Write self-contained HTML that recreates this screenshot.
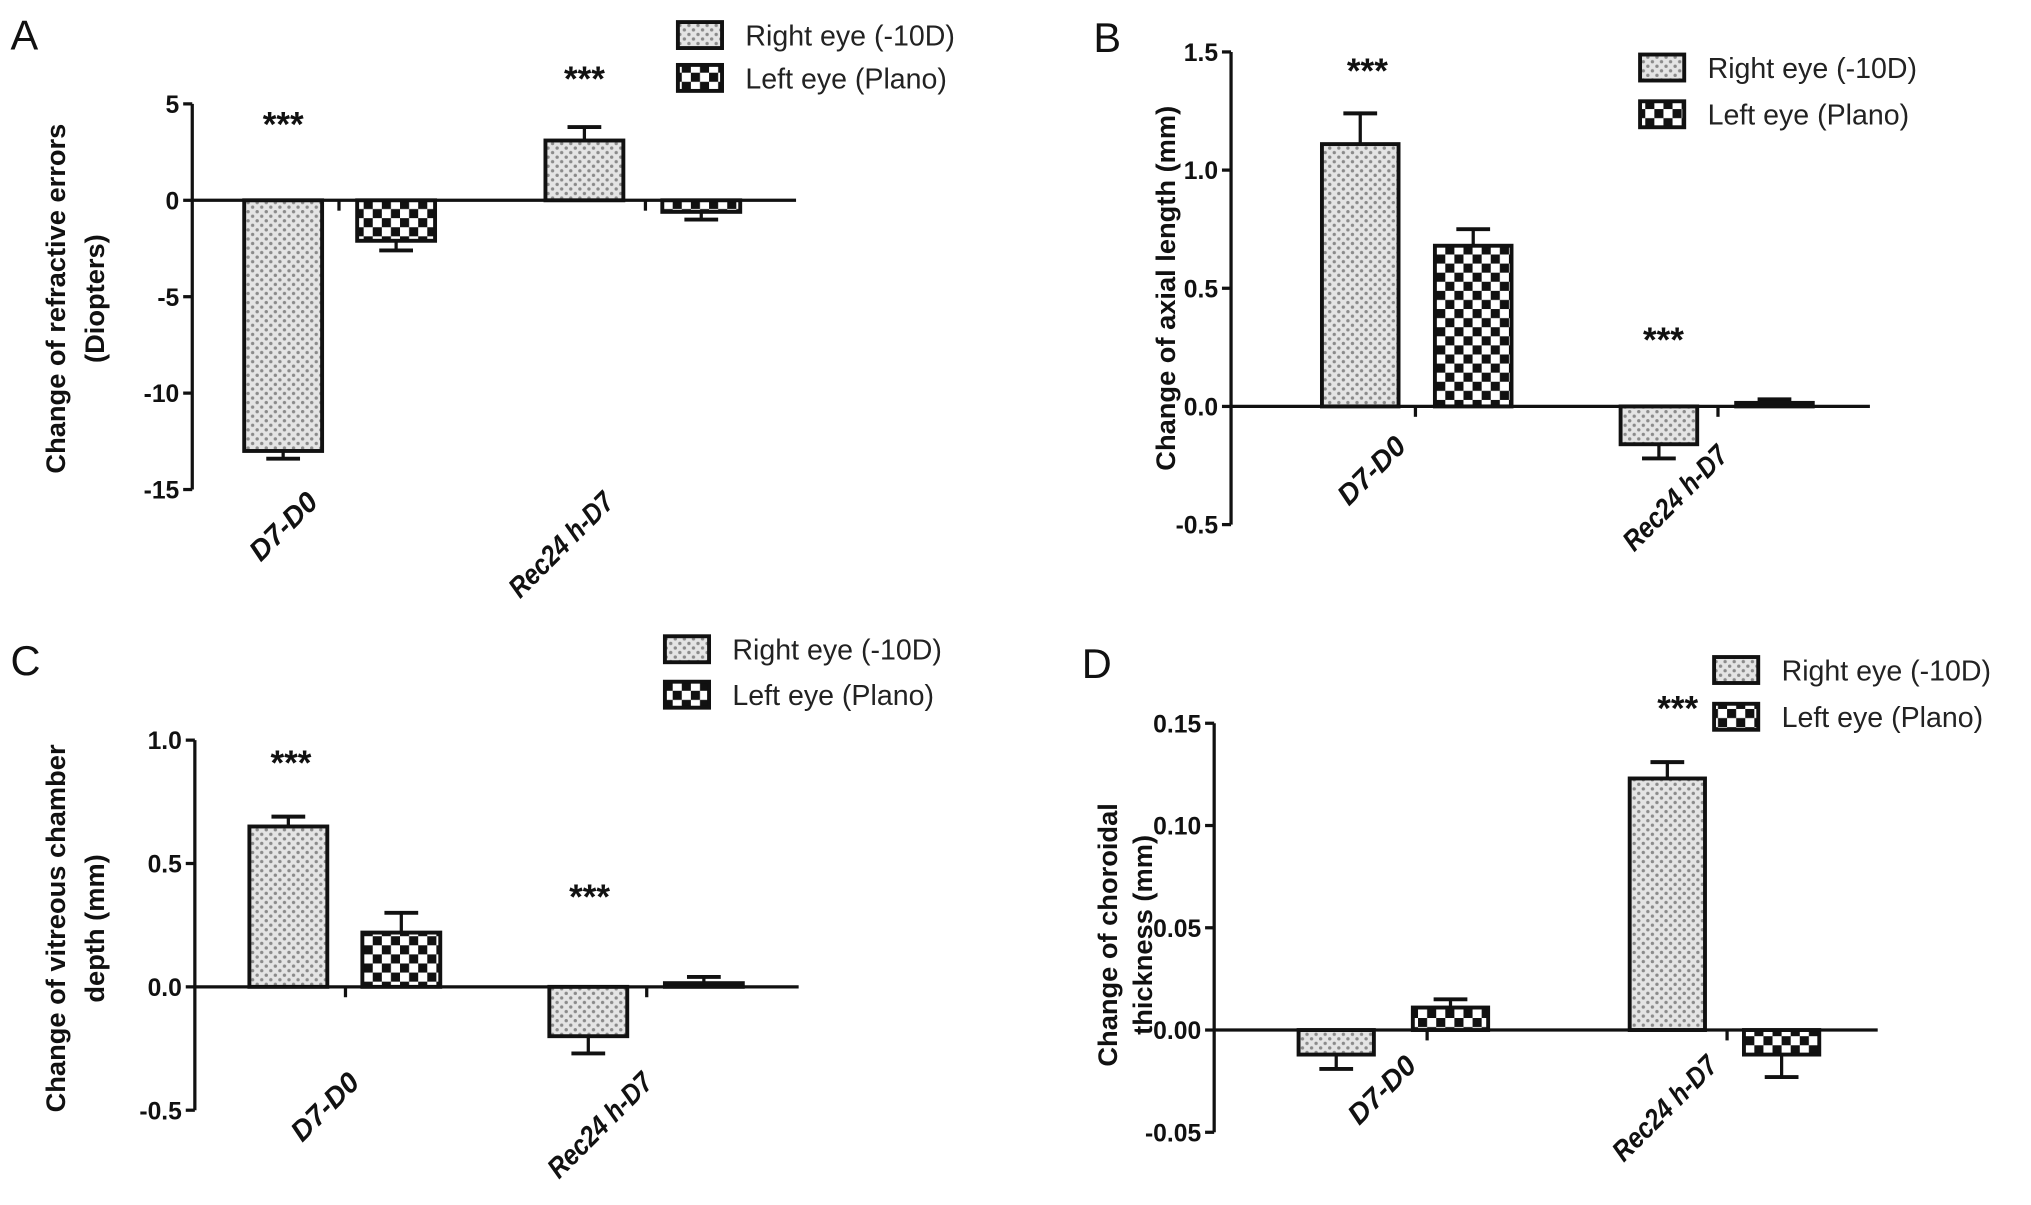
<!DOCTYPE html>
<html><head><meta charset="utf-8"><style>
html,body{margin:0;padding:0;background:#fff}
svg{display:block;font-family:"Liberation Sans",Arial,sans-serif}
</style></head><body>
<svg id="fig" width="2031" height="1205" viewBox="0 0 1564 928" xmlns="http://www.w3.org/2000/svg">
<defs>
<pattern id="dots" width="7" height="7" patternUnits="userSpaceOnUse">
<rect width="7" height="7" fill="#e4e4e4"/><circle cx="2" cy="2" r="1.3" fill="#8a8a8a"/><circle cx="5.5" cy="5.5" r="1.3" fill="#8a8a8a"/>
</pattern>
<pattern id="checks" width="14" height="14" patternUnits="userSpaceOnUse">
<rect width="14" height="14" fill="#fff"/><rect width="7" height="7" fill="#111"/><rect x="7" y="7" width="7" height="7" fill="#111"/>
</pattern>
</defs>
</svg>
<script>
const categories = ["D7-D0", "Rec24 h-D7"];
const seriesNames = ["Right eye (-10D)", "Left eye (Plano)"];
const valuesA = [[-13.0, 3.1], [-2.1, -0.6]];
const errorsA = [[0.4, 0.7], [0.5, 0.4]];
const ticksA = [5, 0, -5, -10, -15];
const valuesB = [[1.11, -0.16], [0.68, 0.015]];
const errorsB = [[0.13, 0.06], [0.07, 0.015]];
const ticksB = [1.5, 1.0, 0.5, 0.0, -0.5];
const tickLabelsB = ["1.5", "1.0", "0.5", "0.0", "-0.5"];
const valuesC = [[0.65, -0.2], [0.22, 0.015]];
const errorsC = [[0.04, 0.07], [0.08, 0.025]];
const ticksC = [1.0, 0.5, 0.0, -0.5];
const tickLabelsC = ["1.0", "0.5", "0.0", "-0.5"];
const valuesD = [[-0.012, 0.123], [0.011, -0.012]];
const errorsD = [[0.007, 0.008], [0.004, 0.011]];
const ticksD = [0.15, 0.10, 0.05, 0.00, -0.05];
const tickLabelsD = ["0.15", "0.10", "0.05", "0.00", "-0.05"];

const svg = document.getElementById('fig');
const NS = "http://www.w3.org/2000/svg";
function mk(tag, attrs, parent){const e=document.createElementNS(NS,tag);for(const k in attrs)e.setAttribute(k,attrs[k]);(parent||svg).appendChild(e);return e;}

function panel(cfg){
  const g = mk('g',{});
  
  
  const ymax = cfg.ticks[0], ymin = cfg.ticks[cfg.ticks.length-1];
  const y = v => cfg.yTop + (ymax - v) / (ymax - ymin) * (cfg.yBot - cfg.yTop);
  const lt = mk('text',{x:cfg.lx,y:cfg.ly,'font-size':32,fill:'#111'},g); lt.textContent=cfg.letter;
  
  
  const ax = mk('line',{x1:cfg.ax,y1:y(ymax),x2:cfg.ax,y2:y(ymin),stroke:'#111','stroke-width':2.5},g);
  
  
  cfg.ticks.forEach((t,i)=>{
    mk('line',{x1:cfg.ax-7,y1:y(t),x2:cfg.ax,y2:y(t),stroke:'#111','stroke-width':2.5},g);
    const tx = mk('text',{x:cfg.ax-10,y:y(t)+7,'text-anchor':'end','font-size':19,'font-weight':'bold',fill:'#111'},g);
    tx.textContent = cfg.tickLabels ? cfg.tickLabels[i] : String(t);
    
    
  });
  const tt = mk('text',{transform:`translate(${cfg.tx},${cfg.ty}) rotate(-90)`,'text-anchor':'middle','font-size':21,'font-weight':'bold',fill:'#111'},g);
  
  
  cfg.title.forEach((line,i)=>{const s=mk('tspan',{x:0,dy:i?cfg.tgap:0},tt);s.textContent=line;});
  const fills=['url(#dots)','url(#checks)'];
  categories.forEach((c,ci)=>{
    [0,1].forEach(si=>{
      const x0 = cfg.barX[ci][si], w = cfg.bw;
      const v = cfg.values[si][ci], e = cfg.errors[si][ci];
      const y0 = y(0), yv = y(v), ye = y(v + (v>=0?e:-e));
      const cx = x0 + w/2;
      const el = mk('line',{x1:cx,y1:yv,x2:cx,y2:ye,stroke:'#111','stroke-width':2.5},g);
      
      
      mk('line',{x1:cx-13,y1:ye,x2:cx+13,y2:ye,stroke:'#111','stroke-width':3},g);
      const r = mk('rect',{x:x0,y:Math.min(y0,yv),width:w,height:Math.abs(yv-y0),fill:fills[si],stroke:'#111','stroke-width':3},g);
      
      
    });
    const tk = cfg.catTick[ci];
    mk('line',{x1:tk,y1:y(0),x2:tk,y2:y(0)+8,stroke:'#111','stroke-width':2.5},g);
    const xl = mk('text',{transform:`translate(${cfg.xlab[ci][0]},${cfg.xlab[ci][1]}) rotate(-45)`,'text-anchor':'end','font-size':22,'font-weight':'bold','font-style':'italic',fill:'#111',textLength:ci?104:64,lengthAdjust:'spacingAndGlyphs'},g);
    xl.textContent = c;
    
    
  });
  const bl = mk('line',{x1:cfg.ax,y1:y(0),x2:cfg.bEnd,y2:y(0),stroke:'#111','stroke-width':2.5},g);
  
  
  cfg.stars.forEach(s=>{
    const st = mk('text',{x:s[0],y:s[1],'text-anchor':'middle','font-size':27,'font-weight':'bold',fill:'#111'},g);
    st.textContent='***';
    
    
  });
  seriesNames.forEach((n,i)=>{
    const ly = cfg.leg[1] + i*cfg.legGap;
    const lb = mk('rect',{x:cfg.leg[0],y:ly-10,width:34,height:20,fill:fills[i],stroke:'#111','stroke-width':3},g);
    
    
    const lt2 = mk('text',{x:cfg.leg[0]+52,y:ly+8,'font-size':22,fill:'#222'},g);
    lt2.textContent=n;
    
    
  });
}

panel({letter:'A',lx:8,ly:38,ticks:ticksA,values:valuesA,errors:errorsA,yTop:80,yBot:377,ax:148,bEnd:613,
  barX:[[188,275],[420,510]],bw:60,catTick:[261,497],xlab:[[246,388],[474,388]],
  title:['Change of refractive errors','(Diopters)'],tgap:30,tx:50,ty:230,stars:[[218,105],[450,70]],leg:[522,27],legGap:33});
panel({letter:'B',lx:842,ly:40,ticks:ticksB,tickLabels:tickLabelsB,values:valuesB,errors:errorsB,yTop:40,yBot:404,ax:948,bEnd:1440,
  barX:[[1018,1105],[1248,1337]],bw:59,catTick:[1090,1323],xlab:[[1084,345],[1332,352]],
  title:['Change of axial length (mm)'],tgap:30,tx:905,ty:222,stars:[[1053,64],[1281,271]],leg:[1263,52],legGap:36});
panel({letter:'C',lx:8,ly:520,ticks:ticksC,tickLabels:tickLabelsC,values:valuesC,errors:errorsC,yTop:570,yBot:855,ax:150,bEnd:615,
  barX:[[192,279],[423,512]],bw:60,catTick:[266,498],xlab:[[278,835],[504,835]],
  title:['Change of vitreous chamber','depth (mm)'],tgap:30,tx:50,ty:715,stars:[[224,597],[454,700]],leg:[512,500],legGap:35});
panel({letter:'D',lx:833,ly:522,ticks:ticksD,tickLabels:tickLabelsD,values:valuesD,errors:errorsD,yTop:557,yBot:872,ax:935,bEnd:1446,
  barX:[[1000,1088],[1255,1343]],bw:58,catTick:[1099,1330],xlab:[[1092,822],[1324,822]],
  title:['Change of choroidal','thickness (mm)'],tgap:27,tx:860,ty:720,stars:[[1292,555]],leg:[1320,516],legGap:36});
</script>
</body></html>
